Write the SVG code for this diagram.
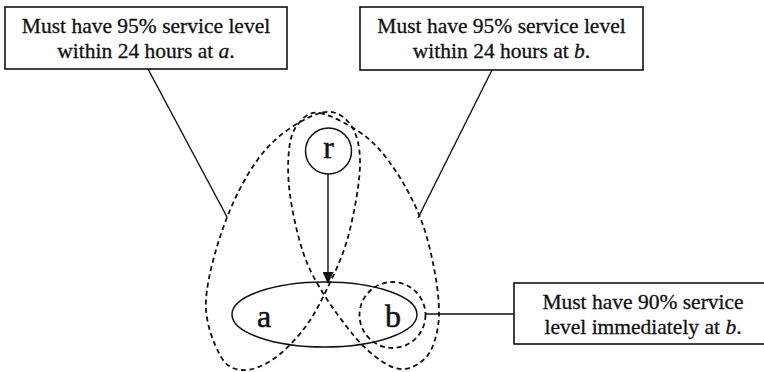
<svg xmlns="http://www.w3.org/2000/svg" width="764" height="372" viewBox="0 0 764 372">
  <style>
    .box { fill: #fff; stroke: #111; stroke-width: 1.6; }
    .note { font-family: "Liberation Serif", serif; font-size: 21.5px; fill: #111; stroke: #111; stroke-width: 0.3; text-anchor: middle; }
    .node { fill: none; stroke: #111; stroke-width: 1.5; }
    .set { fill: none; stroke: #111; stroke-width: 1.8; stroke-dasharray: 5 3.5; }
    .lbl { font-family: "Liberation Serif", serif; font-size: 32px; fill: #111; stroke: #111; stroke-width: 0.5; text-anchor: middle; }
    .wire { stroke: #111; stroke-width: 1.4; fill: none; }
  </style>
  <defs>
    <marker id="arrowhead" markerWidth="12" markerHeight="11" refX="11" refY="5.5" orient="auto" markerUnits="userSpaceOnUse">
      <path d="M0,0 L12,5.5 L0,11 Z" fill="#111"/>
    </marker>
  </defs>
  <rect width="764" height="372" fill="#fff"/>

  <!-- connectors from notes to the sets they describe, and the r -> a edge -->
  <g id="connectors">
    <line class="wire" x1="148" y1="69" x2="227" y2="217"/>
    <line class="wire" x1="492" y1="70" x2="418" y2="218"/>
    <line class="wire" x1="425" y1="314" x2="514" y2="314"/>
    <line class="wire" x1="328" y1="174" x2="328" y2="283" marker-end="url(#arrowhead)"/>
  </g>

  <!-- set {r, a}: left outer curve, returning along the right of r -->
  <g id="set-ra">
    <path class="set" d="M320,113 C306.2,117 282.3,131 267,148 C251.7,165 238.2,189.7 228,215 C217.8,240.3 207.3,276.7 206,300 C204.7,323.3 214,343.3 220,355 C226,366.7 233.3,369.2 242,370 C250.7,370.8 261.8,366.7 272,360 C282.2,353.3 294.2,341.2 303,330 C311.8,318.8 317.5,308.5 325,293 C332.5,277.5 342.2,258.3 348,237 C353.8,215.7 359.7,183.8 360,165 C360.3,146.2 356.7,132.7 350,124 C343.3,115.3 333.8,109 320,113 Z"/>
  </g>

  <!-- set {r, b}: right outer curve, returning along the left of r -->
  <g id="set-rb">
    <path class="set" d="M320,113 C331.2,115 352.5,126.5 365,136 C377.5,145.5 385.8,156.5 395,170 C404.2,183.5 413.5,200.7 420,217 C426.5,233.3 430.8,251.7 434,268 C437.2,284.3 439.3,301.7 439,315 C438.7,328.3 435.5,339.8 432,348 C428.5,356.2 423.3,360.5 418,364 C412.7,367.5 406.3,369.7 400,369 C393.7,368.3 387.5,365.3 380,360 C372.5,354.7 364.5,348.2 355,337 C345.5,325.8 331.7,307.2 323,293 C314.3,278.8 308.5,268.3 303,252 C297.5,235.7 292.3,212 290,195 C287.7,178 287.7,161.8 289,150 C290.3,138.2 292.8,130.2 298,124 C303.2,117.8 308.8,111 320,113 Z"/>
  </g>

  <!-- set {b} -->
  <g id="set-b">
    <circle class="set" cx="392.5" cy="315" r="33"/>
  </g>

  <!-- node r -->
  <g id="node-r">
    <circle class="node" cx="328.5" cy="151" r="23"/>
    <text class="lbl" x="328.5" y="158">r</text>
  </g>

  <!-- node ab -->
  <g id="node-ab">
    <ellipse class="node" cx="324.5" cy="314.5" rx="92.5" ry="32.5"/>
    <text class="lbl" x="264" y="327">a</text>
    <text class="lbl" x="393" y="327">b</text>
  </g>

  <!-- notes -->
  <g id="note-a">
    <rect class="box" x="5" y="7" width="282" height="62"/>
    <text class="note" x="146" y="33">Must have 95% service level</text>
    <text class="note" x="146" y="58">within 24 hours at <tspan font-style="italic">a</tspan>.</text>
  </g>
  <g id="note-b">
    <rect class="box" x="360" y="7" width="283" height="63"/>
    <text class="note" x="501.5" y="33">Must have 95% service level</text>
    <text class="note" x="501.5" y="58">within 24 hours at <tspan font-style="italic">b</tspan>.</text>
  </g>
  <g id="note-b-now">
    <rect class="box" x="514" y="283" width="258" height="61"/>
    <text class="note" x="643" y="309">Must have 90% service</text>
    <text class="note" x="643" y="334">level immediately at <tspan font-style="italic">b</tspan>.</text>
  </g>
</svg>
